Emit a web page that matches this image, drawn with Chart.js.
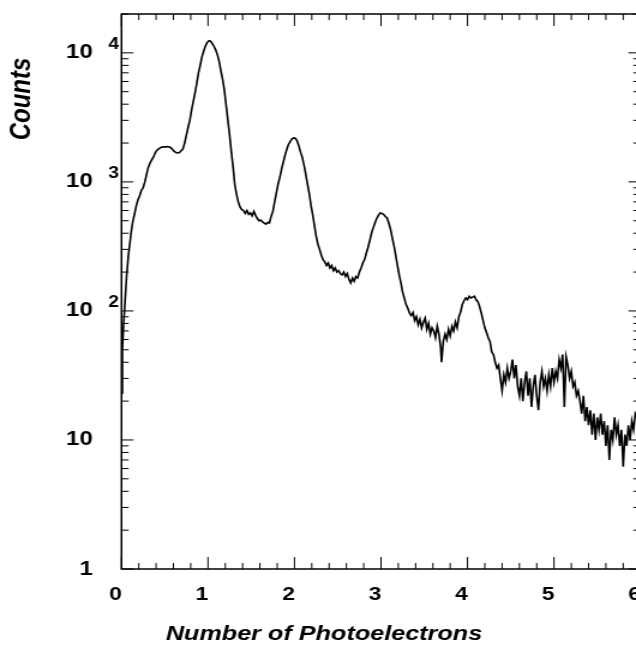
<!DOCTYPE html>
<html lang="en">
<head>
  <meta charset="UTF-8" />
  <title>Photoelectron spectrum</title>
  <script src="https://cdn.jsdelivr.net/npm/chart.js"></script>
  <style>
    html, body { margin: 0; padding: 0; background: #fff; overflow: hidden; width: 636px; height: 646px; }
    /* the scanned figure is stretched sideways, so the canvas is too */
    #chart { position: absolute; left: 0; top: 0; transform: scaleX(1.2); transform-origin: 0 0; }
  </style>
</head>
<body>
  <canvas id="chart" width="560" height="646" style="width:560px;height:646px;"></canvas>

  <script>
    const photoelectrons = [
      0.00, 0.01, 0.02, 0.035, 0.05, 0.06, 0.08, 0.095, 0.11, 0.13, 0.15, 0.17, 0.19, 0.21, 0.23, 0.25, 0.27, 0.29,
      0.31, 0.33, 0.35, 0.37, 0.39, 0.41, 0.43, 0.45, 0.47, 0.49, 0.51, 0.53, 0.55, 0.57, 0.59, 0.61, 0.63, 0.65,
      0.67, 0.69, 0.71, 0.73, 0.75, 0.77, 0.79, 0.81, 0.83, 0.85, 0.87, 0.89, 0.91, 0.93, 0.95, 0.97, 0.99,
      1.01, 1.03, 1.05, 1.07, 1.09, 1.11, 1.13, 1.15, 1.17, 1.19, 1.21, 1.23, 1.25, 1.27, 1.29, 1.31, 1.33, 1.35,
      1.37, 1.39, 1.41, 1.43, 1.45, 1.47, 1.49, 1.51, 1.53, 1.55, 1.57, 1.59, 1.61, 1.63, 1.65, 1.67, 1.69, 1.71,
      1.73, 1.75, 1.77, 1.79, 1.81, 1.83, 1.85, 1.87, 1.89, 1.91, 1.93, 1.95, 1.97, 1.99,
      2.01, 2.03, 2.05, 2.07, 2.09, 2.11, 2.13, 2.15, 2.17, 2.19, 2.21, 2.23, 2.25, 2.27, 2.29, 2.31, 2.33, 2.35,
      2.37, 2.39, 2.41, 2.43, 2.45, 2.47, 2.49, 2.51, 2.53, 2.55, 2.57, 2.59, 2.61, 2.63, 2.65, 2.67, 2.69, 2.71,
      2.73, 2.75, 2.77, 2.79, 2.81, 2.83, 2.85, 2.87, 2.89, 2.91, 2.93, 2.95, 2.97, 2.99,
      3.01, 3.03, 3.05, 3.07, 3.09, 3.11, 3.13, 3.15, 3.17, 3.19, 3.21, 3.23, 3.25, 3.27, 3.29, 3.31, 3.33, 3.35,
      3.37, 3.39, 3.41, 3.43, 3.45, 3.47, 3.49, 3.51, 3.53, 3.55, 3.57, 3.59, 3.61, 3.63, 3.65, 3.67, 3.69, 3.70,
      3.72, 3.74, 3.76, 3.78, 3.80, 3.82, 3.84, 3.86, 3.88, 3.90, 3.92, 3.94, 3.96, 3.98,
      4.00, 4.02, 4.04, 4.06, 4.08, 4.10, 4.12, 4.14, 4.16, 4.18, 4.20, 4.22, 4.24, 4.26, 4.28, 4.30, 4.32, 4.34,
      4.36, 4.38, 4.40, 4.42, 4.44, 4.46, 4.48, 4.50, 4.52, 4.54, 4.56, 4.58, 4.60, 4.62, 4.64, 4.66, 4.68, 4.70,
      4.72, 4.74, 4.76, 4.78, 4.80, 4.82, 4.84, 4.86, 4.88, 4.90, 4.92, 4.94, 4.96, 4.98,
      5.00, 5.02, 5.04, 5.06, 5.08, 5.10, 5.12, 5.14, 5.16, 5.18, 5.20, 5.22, 5.24, 5.26, 5.28, 5.30, 5.32, 5.34,
      5.36, 5.38, 5.40, 5.42, 5.44, 5.46, 5.48, 5.50, 5.52, 5.54, 5.56, 5.58, 5.60, 5.62, 5.64, 5.66, 5.68, 5.70,
      5.72, 5.74, 5.76, 5.78, 5.80, 5.82, 5.84, 5.86, 5.88, 5.90, 5.92, 5.94, 5.96, 5.98, 6.00
    ];
    const counts = [
      23, 50, 70, 102, 150, 190, 270, 325, 400, 490, 560, 650, 725, 780, 860, 900, 1000, 1150,
      1300, 1400, 1480, 1560, 1680, 1760, 1800, 1840, 1860, 1870, 1860, 1880, 1860, 1840, 1780, 1720, 1690, 1680,
      1690, 1740, 1800, 2000, 2300, 2650, 3000, 3600, 4200, 4900, 5800, 7000, 8000, 9300, 10300, 11300, 12000,
      12400, 12300, 11800, 11200, 10500, 9600, 8500, 7200, 6200, 5100, 3900, 3000, 2300, 1700, 1300, 950, 800, 700,
      640, 610, 600, 570, 600, 560, 575, 545, 590, 550, 520, 500, 505, 490, 480, 470, 485, 480,
      540, 590, 700, 820, 960, 1080, 1250, 1420, 1600, 1780, 1950, 2050, 2150, 2190,
      2180, 2080, 1900, 1700, 1550, 1350, 1150, 960, 820, 660, 560, 460, 380, 330, 300, 270, 250, 240,
      225, 235, 215, 225, 205, 215, 200, 205, 195, 190, 200, 185, 195, 175, 165, 180, 170, 185,
      180, 200, 215, 235, 250, 280, 310, 350, 400, 440, 480, 520, 550, 575,
      570, 560, 540, 525, 480, 430, 370, 320, 270, 225, 190, 165, 140, 125, 112, 105, 96, 92,
      97, 84, 90, 78, 86, 74, 82, 88, 72, 80, 66, 74, 70, 62, 76, 66, 52, 40,
      58, 66, 60, 72, 64, 76, 70, 82, 74, 90, 98, 112, 120, 126,
      122, 130, 126, 128, 130, 122, 118, 108, 96, 84, 74, 68, 62, 58, 48, 46, 40, 36,
      38, 30, 24, 32, 28, 36, 30, 34, 42, 30, 38, 26, 22, 30, 20, 28, 34, 22,
      30, 18, 26, 32, 22, 17, 28, 34, 26, 30, 24, 32, 26, 36,
      28, 34, 30, 42, 36, 46, 18, 44, 38, 30, 34, 26, 28, 22, 24, 20, 16, 22,
      14, 18, 13, 17, 11, 16, 10, 15, 12, 16, 11, 14, 9, 13, 7, 12, 10, 15,
      11, 13, 9, 12, 6.2, 11, 9, 13, 10, 14, 12, 16, 15, 18, 17
    ];

    const xTicks = [0, 1, 2, 3, 4, 5, 6];
    const yTicks = [1, 10, 100, 1000, 10000];
    const yTickLabels = ['1', '10', '10', '10', '10'];
    const yExponents = ['', '', '2', '3', '4'];

    const FONT = '"Liberation Sans", Arial, Helvetica, sans-serif';

    // frame, inward ticks, exponents and axis titles
    const framePlugin = {
      id: 'frame',
      afterDraw(chart) {
        const { ctx, scales: { x, y } } = chart;
        const left = x.getPixelForValue(0), right = x.getPixelForValue(6);
        const top = y.getPixelForValue(y.max), bottom = y.getPixelForValue(1);
        ctx.save();
        ctx.strokeStyle = '#000';
        ctx.lineWidth = 1.5;
        ctx.strokeRect(left, top, right - left, bottom - top);

        ctx.lineWidth = 1;
        ctx.beginPath();
        for (let i = 0; i <= 30; i++) {
          const px = x.getPixelForValue(i * 0.2);
          const len = i % 5 === 0 ? 12 : 6;
          ctx.moveTo(px, bottom); ctx.lineTo(px, bottom - len);
          ctx.moveTo(px, top); ctx.lineTo(px, top + len);
        }
        for (const d of yTicks) {
          for (let m = 1; m <= 9; m++) {
            const v = d * m;
            if (v > y.max) break;
            const py = y.getPixelForValue(v);
            const len = m === 1 ? 10 : 6;
            ctx.moveTo(left, py); ctx.lineTo(left + len, py);
            ctx.moveTo(right, py); ctx.lineTo(right - len, py);
          }
        }
        ctx.stroke();

        ctx.fillStyle = '#000';
        ctx.font = 'bold 16px ' + FONT;
        ctx.textAlign = 'left';
        ctx.textBaseline = 'middle';
        yTicks.forEach((v, i) => {
          if (!yExponents[i]) return;
          ctx.fillText(yExponents[i], left - 11, y.getPixelForValue(v) - 8);
        });

        ctx.font = 'italic bold 21px ' + FONT;
        ctx.textAlign = 'center';
        ctx.fillText('Number of Photoelectrons', 270, 634);

        ctx.translate(18.5, 99);
        ctx.rotate(-Math.PI / 2);
        ctx.font = 'italic bold 24px ' + FONT;
        ctx.fillText('Counts', 0, 0);
        ctx.restore();
      }
    };

    new Chart(document.getElementById('chart'), {
      type: 'line',
      data: {
        datasets: [{
          data: photoelectrons.map((v, i) => ({ x: v, y: counts[i] })),
          borderColor: '#000',
          borderWidth: 1.6,
          pointRadius: 0,
          tension: 0,
          fill: false
        }]
      },
      options: {
        responsive: false,
        animation: false,
        devicePixelRatio: 1,
        layout: { padding: { left: 0, top: 14, right: 26.25, bottom: 0 } },
        plugins: { legend: { display: false }, tooltip: { enabled: false } },
        scales: {
          x: {
            type: 'linear',
            min: 0,
            max: 6,
            grid: { display: false, drawTicks: false },
            border: { display: false },
            afterBuildTicks: s => { s.ticks = xTicks.map(v => ({ value: v })); },
            afterFit: s => { s.height = 77; s.paddingLeft = 0; s.paddingRight = 0; },
            ticks: {
              autoSkip: false,
              maxRotation: 0,
              padding: 14,
              labelOffset: -5,
              color: '#000',
              font: { family: FONT, size: 19, weight: 'bold' },
              callback: v => String(v)
            }
          },
          y: {
            type: 'logarithmic',
            min: 1,
            max: 20000,
            grid: { display: false, drawTicks: false },
            border: { display: false },
            afterBuildTicks: s => { s.ticks = yTicks.map(v => ({ value: v })); },
            afterFit: s => { s.width = 101.25; s.paddingTop = 0; s.paddingBottom = 0; },
            ticks: {
              autoSkip: false,
              padding: 24,
              color: '#000',
              font: { family: FONT, size: 20, weight: 'bold' },
              callback: (v, i) => yTickLabels[i]
            }
          }
        }
      },
      plugins: [framePlugin]
    });
  </script>
</body>
</html>
